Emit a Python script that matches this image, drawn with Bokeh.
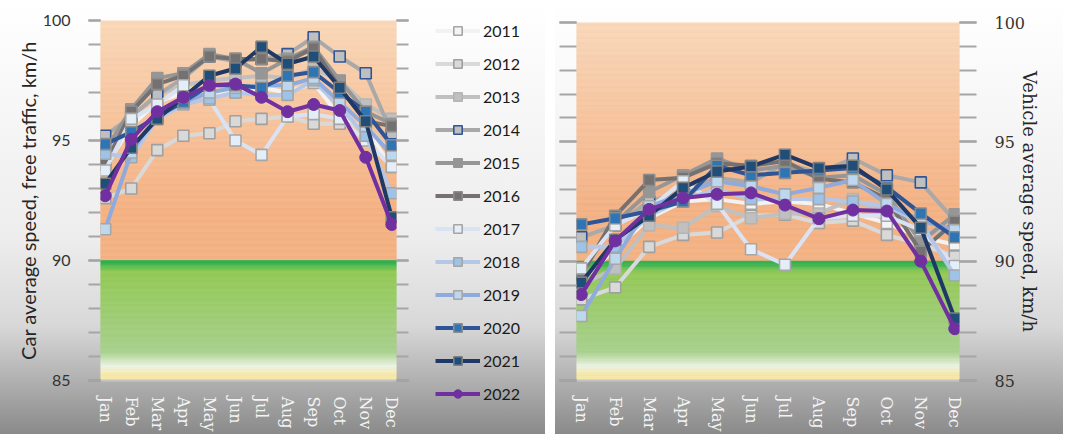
import numpy as np
from bokeh.plotting import figure
from bokeh.layouts import row, column
from bokeh.models import Range1d, FixedTicker, LinearAxis
from bokeh.embed import file_html
from bokeh.resources import INLINE

# Mois et années
months = ["Jan", "Feb", "Mar", "Apr", "May", "Jun", "Jul", "Aug", "Sep", "Oct", "Nov", "Dec"]
years = ["2011", "2012", "2013", "2014", "2015", "2016", "2017", "2018", "2019", "2020", "2021", "2022"]

# Car average speed, free traffic (left chart), km/h
car_2011 = [93.9, 95.6, 96.6, 97.0, 97.0, 97.0, 97.2, 97.0, 97.4, 96.0, 95.5, 93.9]
car_2012 = [92.6, 93.0, 94.6, 95.2, 95.3, 95.8, 95.9, 96.0, 95.7, 95.7, 95.6, 94.5]
car_2013 = [94.3, 96.0, 96.9, 97.3, 97.5, 97.6, 97.7, 97.6, 98.0, 97.5, 96.5, 95.9]
car_2014 = [95.2, 96.0, 96.9, 97.6, 98.5, 98.3, 98.4, 98.6, 99.3, 98.5, 97.8, 95.3]
car_2015 = [94.6, 96.3, 97.6, 97.8, 98.6, 98.4, 97.8, 98.4, 98.9, 97.5, 96.2, 95.7]
car_2016 = [94.0, 96.2, 97.35, 97.7, 98.5, 98.4, 98.4, 98.3, 98.85, 97.2, 95.8, 95.6]
car_2017 = [93.75, 95.9, 96.5, 97.3, 96.7, 95.0, 94.4, 96.0, 96.1, 95.9, 95.0, 93.9]
car_2018 = [94.45, 94.3, 95.9, 96.5, 96.75, 97.0, 96.9, 96.9, 97.5, 96.4, 95.2, 92.8]
car_2019 = [91.3, 94.5, 96.1, 96.6, 97.0, 97.2, 97.3, 97.3, 97.6, 96.6, 95.6, 94.4]
car_2020 = [94.85, 95.35, 96.0, 96.6, 97.3, 97.3, 97.2, 97.7, 97.85, 97.0, 96.2, 94.8]
car_2021 = [93.2, 94.7, 95.9, 96.8, 97.7, 98.0, 98.9, 98.2, 98.5, 97.2, 95.8, 91.8]
car_2022 = [92.7, 95.05, 96.2, 96.8, 97.3, 97.35, 96.8, 96.2, 96.5, 96.25, 94.3, 91.5]

# Vehicle average speed (right chart), km/h
veh_2011 = [89.2, 90.5, 91.8, 92.5, 92.6, 92.4, 92.5, 92.4, 92.0, 91.6, 91.0, 90.7]
veh_2012 = [88.4, 88.9, 90.6, 91.1, 91.2, 91.9, 91.95, 91.6, 91.7, 91.1, 90.7, 90.2]
veh_2013 = [89.0, 89.7, 91.5, 91.4, 92.3, 91.8, 92.0, 92.0, 92.6, 92.0, 91.2, 91.3]
veh_2014 = [91.0, 91.5, 92.5, 92.9, 93.5, 93.3, 94.1, 93.7, 94.3, 93.6, 93.3, 91.7]
veh_2015 = [89.5, 91.6, 92.9, 93.6, 94.3, 93.8, 94.0, 93.5, 93.6, 92.8, 90.8, 91.96]
veh_2016 = [89.4, 91.9, 93.4, 93.5, 94.1, 94.0, 94.2, 93.45, 93.3, 92.6, 90.4, 91.65]
veh_2017 = [89.7, 91.5, 92.2, 93.35, 92.4, 90.5, 89.85, 91.8, 91.9, 91.9, 91.3, 89.8]
veh_2018 = [90.6, 90.6, 91.9, 92.6, 93.0, 92.6, 92.6, 92.6, 92.5, 92.3, 91.6, 89.4]
veh_2019 = [87.7, 90.1, 92.3, 92.8, 93.35, 93.14, 92.8, 93.07, 93.4, 92.4, 91.7, 91.3]
veh_2020 = [91.54, 91.8, 92.1, 92.5, 94.0, 93.6, 93.7, 93.8, 93.9, 93.1, 92.0, 91.0]
veh_2021 = [89.1, 90.9, 91.9, 93.07, 93.76, 93.97, 94.46, 93.9, 94.0, 93.0, 91.4, 87.6]
veh_2022 = [88.6, 90.85, 92.17, 92.65, 92.8, 92.86, 92.35, 91.78, 92.14, 92.1, 90.0, 87.17]

y_ticks = [85, 90, 95, 100]

car = dict(zip(years, [car_2011, car_2012, car_2013, car_2014, car_2015, car_2016,
                       car_2017, car_2018, car_2019, car_2020, car_2021, car_2022]))
veh = dict(zip(years, [veh_2011, veh_2012, veh_2013, veh_2014, veh_2015, veh_2016,
                       veh_2017, veh_2018, veh_2019, veh_2020, veh_2021, veh_2022]))

# couleurs : ligne, remplissage du marqueur, bord du marqueur
styles = {
    "2011": ("#f2f2f2", "#f4f4f4", "#a6a6a6"),
    "2012": ("#d9d9d9", "#d9d9d9", "#a0a0a0"),
    "2013": ("#c0c0c0", "#c0c0c0", "#b4b4b4"),
    "2014": ("#a9a9a9", "#bfbfbf", "#2f5597"),
    "2015": ("#969696", "#969696", "#969696"),
    "2016": ("#767171", "#767171", "#8c8c8c"),
    "2017": ("#dae3f3", "#e4eef8", "#a6a6a6"),
    "2018": ("#b4c7e7", "#9dc3e6", "#a6a6a6"),
    "2019": ("#8faadc", "#bdd7ee", "#a6a6a6"),
    "2020": ("#2f5597", "#2e75b6", "#8c8c8c"),
    "2021": ("#1f3864", "#1f4e79", "#7f7f7f"),
    "2022": ("#7030a0", "#7030a0", "#7030a0"),
}

orange_stops = [(90, (244, 177, 131)), (92.2, (244, 177, 131)), (100, (248, 215, 184))]
green_stops = [(85, (248, 231, 166)), (85.3, (247, 234, 176)), (85.6, (238, 245, 230)),
               (86.2, (169, 209, 142)), (87.5, (160, 205, 120)), (89.55, (146, 201, 85)),
               (90, (30, 172, 76))]

panel_css = "linear-gradient(to bottom, #ffffff 0%, #ededed 55%, #d8d8d8 75%, #8a8a8a 100%)"
H = 434


def add_band(p, stops, x0, x1, step=0.05):
    lo, hi = stops[0][0], stops[-1][0]
    edges = np.arange(lo, hi + step / 2, step)
    mids = (edges[:-1] + edges[1:]) / 2
    vals = [s[0] for s in stops]
    cols = []
    for m in mids:
        r, g, b = (int(round(np.interp(m, vals, [s[1][k] for s in stops]))) for k in range(3))
        cols.append("#%02x%02x%02x" % (r, g, b))
    p.quad(left=x0, right=x1, bottom=edges[:-1], top=edges[1:],
           fill_color=cols, line_color=cols, line_width=0.6, level="underlay")


def style_ticks(ax, tick_len):
    ax.ticker = FixedTicker(ticks=y_ticks, minor_ticks=list(range(85, 101)))
    ax.axis_line_color = None
    ax.major_tick_in = 0
    ax.minor_tick_in = 0
    ax.major_tick_out = tick_len
    ax.minor_tick_out = tick_len
    ax.major_tick_line_color = "#8c8c8c"
    ax.minor_tick_line_color = "#a6a6a6"
    ax.major_tick_line_width = 2
    ax.minor_tick_line_width = 2


def draw_series(p, data, legend):
    x = list(range(len(months)))
    for yr in years:
        lc, fc, bc = styles[yr]
        kw = dict(legend_label=yr) if legend else {}
        p.line(x, data[yr], line_color=lc, line_width=4, line_join="round", **kw)
        if yr == "2022":
            p.scatter(x, data[yr], marker="circle", size=12, fill_color=fc,
                      line_color=bc, line_width=1, **kw)
        else:
            p.scatter(x, data[yr], marker="square", size=11, fill_color=fc,
                      line_color=bc, line_width=1.6, **kw)


def make_chart(data, width, pad, borders, y_side, tick_len, tick_font, title, title_font,
               title_size, title_standoff):
    x0, x1 = -pad, len(months) - 1 + pad
    p = figure(width=width, height=H, x_range=Range1d(x0, x1), y_range=Range1d(85, 100),
               output_backend="svg", toolbar_location=None, y_axis_location=y_side,
               min_border_left=borders[0], min_border_right=borders[1],
               min_border_top=borders[2], min_border_bottom=borders[3])
    p.styles = {"background": panel_css}
    p.border_fill_color = None
    p.background_fill_color = None
    p.outline_line_color = None
    p.grid.grid_line_color = None

    add_band(p, orange_stops, x0, x1)
    add_band(p, green_stops, x0, x1)
    draw_series(p, data, False)

    # axe des mois
    p.xaxis.ticker = FixedTicker(ticks=list(range(len(months))))
    p.xaxis.major_label_overrides = {i: m for i, m in enumerate(months)}
    p.xaxis.major_label_orientation = "vertical"
    p.xaxis.major_label_text_font = "DejaVu Serif"
    p.xaxis.major_label_text_font_size = "16px"
    p.xaxis.major_label_text_color = "#f4f4f4"
    p.xaxis.major_label_standoff = 10
    p.xaxis.major_tick_line_color = None
    p.xaxis.minor_tick_line_color = None
    p.xaxis.axis_line_color = "#c4c4c4"
    p.xaxis.axis_line_width = 2

    # axe des vitesses
    yax = p.yaxis[0]
    style_ticks(yax, tick_len)
    yax.major_label_text_font = tick_font
    yax.major_label_text_font_size = "16px"
    yax.major_label_text_color = "#333333"
    yax.major_label_standoff = 18
    yax.axis_label = title
    yax.axis_label_text_font = title_font
    yax.axis_label_text_font_size = title_size
    yax.axis_label_text_font_style = "normal"
    yax.axis_label_text_color = "#262626"
    yax.axis_label_standoff = title_standoff

    # graduations seules de l'autre côté
    other = "right" if y_side == "left" else "left"
    ax2 = LinearAxis()
    style_ticks(ax2, tick_len)
    ax2.major_label_overrides = {t: "" for t in y_ticks}
    ax2.major_label_text_font_size = "0px"
    ax2.major_label_standoff = 0
    p.add_layout(ax2, other)
    return p


left = make_chart(car, 410, 0.18, (100, 14, 20, 46), "left", 12, "Lato",
                  "Car average speed, free traffic, km/h", "Lato", "20px", 0)

# légende dans sa propre figure (les séries y sont hors champ)
leg = figure(width=135, height=H, x_range=Range1d(0, 1), y_range=Range1d(0, 1),
             output_backend="svg", toolbar_location=None, min_border=0,
             x_axis_location=None, y_axis_location=None)
leg.styles = {"background": panel_css}
leg.border_fill_color = None
leg.background_fill_color = None
leg.outline_line_color = None
leg.grid.grid_line_color = None
draw_series(leg, car, True)
lg = leg.legend[0]
lg.location = (25, 30)
lg.label_text_font = "Lato"
lg.label_text_font_size = "16px"
lg.label_text_color = "#1a1a1a"
lg.glyph_width = 45
lg.glyph_height = 21
lg.label_height = 21
lg.spacing = 12
lg.padding = 0
lg.margin = 0
lg.label_standoff = 3
lg.border_line_color = None
lg.background_fill_alpha = 0

right = make_chart(veh, 508, 0.14, (21, 104, 22, 52), "right", 17, "DejaVu Serif",
                   "Vehicle average speed, km/h", "DejaVu Serif", "18px", -9)
right.margin = (0, 0, 0, 10)

# chaque figure dans sa propre colonne pour que les cadres ne soient pas alignés
layout = row(column(left), column(leg), column(right))
open("out.html", "w").write(file_html(layout, INLINE))
